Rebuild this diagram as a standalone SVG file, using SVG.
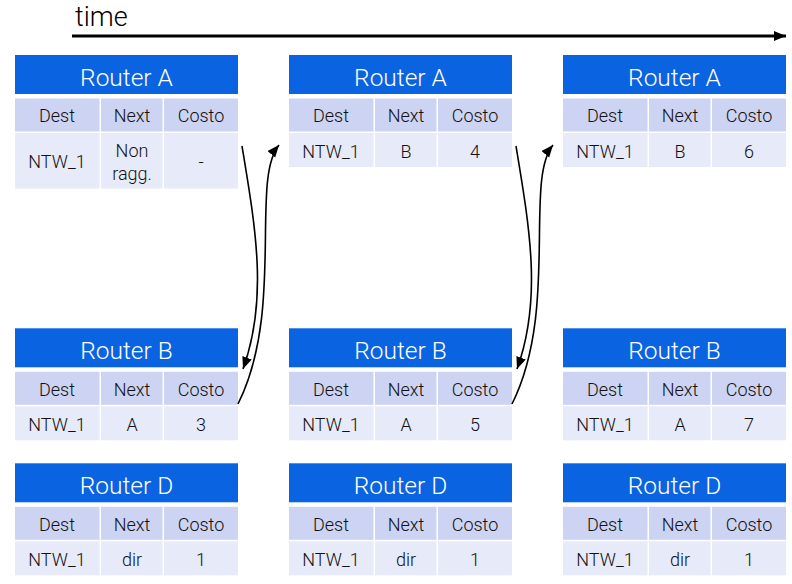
<svg xmlns="http://www.w3.org/2000/svg" width="792" height="584" viewBox="0 0 792 584">
<style>
.hd{fill:#0A64E1}
.r1{fill:#CDD3F2}
.r2{fill:#E7EAF8}
.ht{font-family:Roboto,"Liberation Sans",sans-serif;font-size:24.5px;font-weight:300;fill:#FFFFFF;text-anchor:middle}
.ct{font-family:Roboto,"Liberation Sans",sans-serif;font-size:18px;font-weight:300;fill:#111;text-anchor:middle}
.tt{font-family:Roboto,"Liberation Sans",sans-serif;font-size:27px;font-weight:300;fill:#000}
.cn{fill:none;stroke:#000;stroke-width:1.6}
</style>
<defs>
<marker id="ah" markerUnits="userSpaceOnUse" markerWidth="14" markerHeight="12" refX="12" refY="5" orient="auto">
<path d="M0,0 L12,5 L0,10 z" fill="#000"/>
</marker>
<marker id="ta" markerUnits="userSpaceOnUse" markerWidth="14" markerHeight="12" refX="12" refY="5" orient="auto">
<path d="M0,0 L12,5 L0,10 z" fill="#000"/>
</marker>
</defs>

<g id="time">
<text class="tt" x="75" y="26">time</text>
<line x1="72" y1="36" x2="786" y2="36" stroke="#000" stroke-width="3.2" marker-end="url(#ta)"/>
</g>

<g id="routerA1" transform="translate(15,55)">
<rect class="hd" x="0" y="0" width="223" height="39"/>
<text class="ht" x="111.5" y="31">Router A</text>
<rect class="r1" x="0" y="43.5" width="84.5" height="33"/>
<rect class="r1" x="86" y="43.5" width="61.5" height="33"/>
<rect class="r1" x="149" y="43.5" width="74" height="33"/>
<text class="ct" x="42" y="67.3">Dest</text>
<text class="ct" x="117" y="67.3">Next</text>
<text class="ct" x="186" y="67.3">Costo</text>
<rect class="r2" x="0" y="78" width="84.5" height="55.5"/>
<rect class="r2" x="86" y="78" width="61.5" height="55.5"/>
<rect class="r2" x="149" y="78" width="74" height="55.5"/>
<text class="ct" x="42" y="112.5">NTW_1</text>
<text class="ct" x="117" y="101.5">Non</text>
<text class="ct" x="117" y="124.5">ragg.</text>
<text class="ct" x="186" y="112.5">-</text>
</g>

<g id="routerB1" transform="translate(15,328.3)">
<rect class="hd" x="0" y="0" width="223" height="39"/>
<text class="ht" x="111.5" y="31">Router B</text>
<rect class="r1" x="0" y="43.5" width="84.5" height="33"/>
<rect class="r1" x="86" y="43.5" width="61.5" height="33"/>
<rect class="r1" x="149" y="43.5" width="74" height="33"/>
<text class="ct" x="42" y="67.3">Dest</text>
<text class="ct" x="117" y="67.3">Next</text>
<text class="ct" x="186" y="67.3">Costo</text>
<rect class="r2" x="0" y="78" width="84.5" height="34"/>
<rect class="r2" x="86" y="78" width="61.5" height="34"/>
<rect class="r2" x="149" y="78" width="74" height="34"/>
<text class="ct" x="42" y="103">NTW_1</text>
<text class="ct" x="117" y="103">A</text>
<text class="ct" x="186" y="103">3</text>
</g>

<g id="routerD1" transform="translate(15,463.3)">
<rect class="hd" x="0" y="0" width="223" height="39"/>
<text class="ht" x="111.5" y="31">Router D</text>
<rect class="r1" x="0" y="43.5" width="84.5" height="33"/>
<rect class="r1" x="86" y="43.5" width="61.5" height="33"/>
<rect class="r1" x="149" y="43.5" width="74" height="33"/>
<text class="ct" x="42" y="67.3">Dest</text>
<text class="ct" x="117" y="67.3">Next</text>
<text class="ct" x="186" y="67.3">Costo</text>
<rect class="r2" x="0" y="78" width="84.5" height="34"/>
<rect class="r2" x="86" y="78" width="61.5" height="34"/>
<rect class="r2" x="149" y="78" width="74" height="34"/>
<text class="ct" x="42" y="103">NTW_1</text>
<text class="ct" x="117" y="103">dir</text>
<text class="ct" x="186" y="103">1</text>
</g>

<g id="routerA2" transform="translate(289,55)">
<rect class="hd" x="0" y="0" width="223" height="39"/>
<text class="ht" x="111.5" y="31">Router A</text>
<rect class="r1" x="0" y="43.5" width="84.5" height="33"/>
<rect class="r1" x="86" y="43.5" width="61.5" height="33"/>
<rect class="r1" x="149" y="43.5" width="74" height="33"/>
<text class="ct" x="42" y="67.3">Dest</text>
<text class="ct" x="117" y="67.3">Next</text>
<text class="ct" x="186" y="67.3">Costo</text>
<rect class="r2" x="0" y="78" width="84.5" height="34"/>
<rect class="r2" x="86" y="78" width="61.5" height="34"/>
<rect class="r2" x="149" y="78" width="74" height="34"/>
<text class="ct" x="42" y="103">NTW_1</text>
<text class="ct" x="117" y="103">B</text>
<text class="ct" x="186" y="103">4</text>
</g>

<g id="routerB2" transform="translate(289,328.3)">
<rect class="hd" x="0" y="0" width="223" height="39"/>
<text class="ht" x="111.5" y="31">Router B</text>
<rect class="r1" x="0" y="43.5" width="84.5" height="33"/>
<rect class="r1" x="86" y="43.5" width="61.5" height="33"/>
<rect class="r1" x="149" y="43.5" width="74" height="33"/>
<text class="ct" x="42" y="67.3">Dest</text>
<text class="ct" x="117" y="67.3">Next</text>
<text class="ct" x="186" y="67.3">Costo</text>
<rect class="r2" x="0" y="78" width="84.5" height="34"/>
<rect class="r2" x="86" y="78" width="61.5" height="34"/>
<rect class="r2" x="149" y="78" width="74" height="34"/>
<text class="ct" x="42" y="103">NTW_1</text>
<text class="ct" x="117" y="103">A</text>
<text class="ct" x="186" y="103">5</text>
</g>

<g id="routerD2" transform="translate(289,463.3)">
<rect class="hd" x="0" y="0" width="223" height="39"/>
<text class="ht" x="111.5" y="31">Router D</text>
<rect class="r1" x="0" y="43.5" width="84.5" height="33"/>
<rect class="r1" x="86" y="43.5" width="61.5" height="33"/>
<rect class="r1" x="149" y="43.5" width="74" height="33"/>
<text class="ct" x="42" y="67.3">Dest</text>
<text class="ct" x="117" y="67.3">Next</text>
<text class="ct" x="186" y="67.3">Costo</text>
<rect class="r2" x="0" y="78" width="84.5" height="34"/>
<rect class="r2" x="86" y="78" width="61.5" height="34"/>
<rect class="r2" x="149" y="78" width="74" height="34"/>
<text class="ct" x="42" y="103">NTW_1</text>
<text class="ct" x="117" y="103">dir</text>
<text class="ct" x="186" y="103">1</text>
</g>

<g id="routerA3" transform="translate(563,55)">
<rect class="hd" x="0" y="0" width="223" height="39"/>
<text class="ht" x="111.5" y="31">Router A</text>
<rect class="r1" x="0" y="43.5" width="84.5" height="33"/>
<rect class="r1" x="86" y="43.5" width="61.5" height="33"/>
<rect class="r1" x="149" y="43.5" width="74" height="33"/>
<text class="ct" x="42" y="67.3">Dest</text>
<text class="ct" x="117" y="67.3">Next</text>
<text class="ct" x="186" y="67.3">Costo</text>
<rect class="r2" x="0" y="78" width="84.5" height="34"/>
<rect class="r2" x="86" y="78" width="61.5" height="34"/>
<rect class="r2" x="149" y="78" width="74" height="34"/>
<text class="ct" x="42" y="103">NTW_1</text>
<text class="ct" x="117" y="103">B</text>
<text class="ct" x="186" y="103">6</text>
</g>

<g id="routerB3" transform="translate(563,328.3)">
<rect class="hd" x="0" y="0" width="223" height="39"/>
<text class="ht" x="111.5" y="31">Router B</text>
<rect class="r1" x="0" y="43.5" width="84.5" height="33"/>
<rect class="r1" x="86" y="43.5" width="61.5" height="33"/>
<rect class="r1" x="149" y="43.5" width="74" height="33"/>
<text class="ct" x="42" y="67.3">Dest</text>
<text class="ct" x="117" y="67.3">Next</text>
<text class="ct" x="186" y="67.3">Costo</text>
<rect class="r2" x="0" y="78" width="84.5" height="34"/>
<rect class="r2" x="86" y="78" width="61.5" height="34"/>
<rect class="r2" x="149" y="78" width="74" height="34"/>
<text class="ct" x="42" y="103">NTW_1</text>
<text class="ct" x="117" y="103">A</text>
<text class="ct" x="186" y="103">7</text>
</g>

<g id="routerD3" transform="translate(563,463.3)">
<rect class="hd" x="0" y="0" width="223" height="39"/>
<text class="ht" x="111.5" y="31">Router D</text>
<rect class="r1" x="0" y="43.5" width="84.5" height="33"/>
<rect class="r1" x="86" y="43.5" width="61.5" height="33"/>
<rect class="r1" x="149" y="43.5" width="74" height="33"/>
<text class="ct" x="42" y="67.3">Dest</text>
<text class="ct" x="117" y="67.3">Next</text>
<text class="ct" x="186" y="67.3">Costo</text>
<rect class="r2" x="0" y="78" width="84.5" height="34"/>
<rect class="r2" x="86" y="78" width="61.5" height="34"/>
<rect class="r2" x="149" y="78" width="74" height="34"/>
<text class="ct" x="42" y="103">NTW_1</text>
<text class="ct" x="117" y="103">dir</text>
<text class="ct" x="186" y="103">1</text>
</g>

<g id="connectors">
<path class="cn" d="M242,146 C256,230 268,300 243,369" marker-end="url(#ah)"/>
<path class="cn" d="M238,404 C285,310 250,180 279,145" marker-end="url(#ah)"/>
<path class="cn" d="M516,146 C530,230 542,300 517,369" marker-end="url(#ah)"/>
<path class="cn" d="M512,404 C559,310 524,180 553,145" marker-end="url(#ah)"/>
</g>
</svg>
